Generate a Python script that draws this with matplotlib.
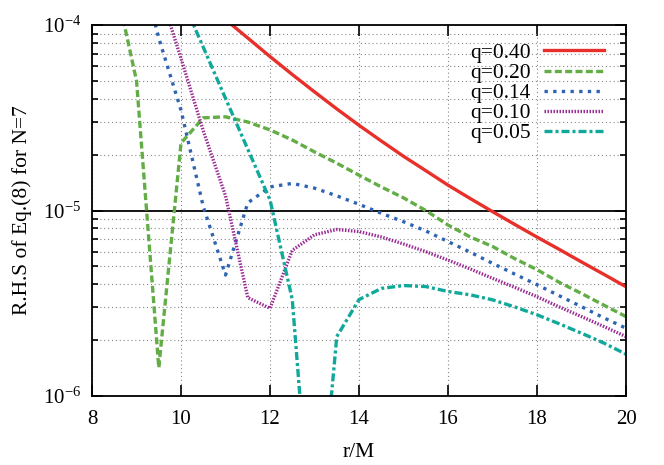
import numpy as np
import matplotlib
matplotlib.use('Agg')
import matplotlib.pyplot as plt
from matplotlib.ticker import LogLocator, NullFormatter

plt.rcParams['font.family'] = ['Liberation Serif', 'DejaVu Serif']
plt.rcParams['mathtext.fontset'] = 'custom'
plt.rcParams['mathtext.rm'] = 'Liberation Serif'

# data (r/M grid of 0.5)
r_040 = [11.0, 11.5, 12.0, 12.5, 13.0, 13.5, 14.0, 14.5, 15.0, 15.5,
         16.0, 16.5, 17.0, 17.5, 18.0, 18.5, 19.0, 19.5, 20.0]
q_040 = [1.07e-4, 8.51e-5, 6.76e-5, 5.41e-5, 4.36e-5, 3.53e-5, 2.88e-5,
         2.37e-5, 1.96e-5, 1.64e-5, 1.37e-5, 1.16e-5, 9.86e-6, 8.41e-6,
         7.19e-6, 6.17e-6, 5.28e-6, 4.53e-6, 3.88e-6]

r_020 = [8.0, 8.5, 9.0, 9.5, 10.0, 10.5, 11.0, 11.5, 12.0, 12.5, 13.0, 13.5,
         14.0, 14.5, 15.0, 15.5, 16.0, 16.5, 17.0, 17.5, 18.0, 18.5, 19.0,
         19.5, 20.0]
q_020 = [5.0e-4, 1.78e-4, 5.0e-5, 1.42e-6, 2.31e-5, 3.16e-5, 3.2e-5, 3.0e-5,
         2.72e-5, 2.40e-5, 2.07e-5, 1.80e-5, 1.55e-5, 1.34e-5, 1.17e-5, 1.0e-5,
         8.35e-6, 7.2e-6, 6.4e-6, 5.5e-6, 4.8e-6, 4.1e-6, 3.57e-6, 3.09e-6,
         2.68e-6]

r_014 = [9.0, 9.5, 10.0, 10.5, 11.0, 11.5, 12.0, 12.5, 13.0, 13.5, 14.0, 14.5,
         15.0, 15.5, 16.0, 16.5, 17.0, 17.5, 18.0, 18.5, 19.0, 19.5, 20.0]
q_014 = [2.5e-4, 8.5e-5, 3.47e-5, 1.05e-5, 4.49e-6, 1.10e-5, 1.34e-5, 1.40e-5,
         1.32e-5, 1.20e-5, 1.08e-5, 9.66e-6, 8.7e-6, 7.76e-6, 6.8e-6, 5.96e-6,
         5.19e-6, 4.54e-6, 3.98e-6, 3.47e-6, 3.03e-6, 2.64e-6, 2.32e-6]

r_010 = [9.5, 10.0, 10.5, 11.0, 11.5, 12.0, 12.5, 13.0, 13.5, 14.0, 14.5, 15.0,
         15.5, 16.0, 16.5, 17.0, 17.5, 18.0, 18.5, 19.0, 19.5, 20.0]
q_010 = [1.58e-4, 6.6e-5, 2.69e-5, 1.20e-5, 3.39e-6, 2.97e-6, 6.1e-6, 7.4e-6,
         7.9e-6, 7.7e-6, 7.2e-6, 6.6e-6, 6.0e-6, 5.4e-6, 4.84e-6, 4.31e-6,
         3.85e-6, 3.43e-6, 3.02e-6, 2.68e-6, 2.37e-6, 2.09e-6]

r_005 = [10.0, 10.5, 11.0, 11.5, 12.0, 12.5, 13.0, 13.5, 14.0, 14.5, 15.0,
         15.5, 16.0, 16.5, 17.0, 17.5, 18.0, 18.5, 19.0, 19.5, 20.0]
q_005 = [1.43e-4, 7.59e-5, 4.02e-5, 2.14e-5, 1.14e-5, 3.31e-6, 1.0e-7, 2.09e-6,
         3.31e-6, 3.8e-6, 3.94e-6, 3.89e-6, 3.66e-6, 3.51e-6, 3.30e-6, 3.02e-6,
         2.74e-6, 2.45e-6, 2.18e-6, 1.93e-6, 1.68e-6]

fig = plt.figure(figsize=(6.64, 4.65), dpi=100)
ax = fig.add_axes([0.1386, 0.1484, 0.8042, 0.7978])

lw = 2.4
ax.plot(r_040, q_040, color='#e8302a', lw=lw, label='q=0.40')
ax.plot(r_020, q_020, color='#62ad45', lw=lw, dashes=(2.1, 1.0), label='q=0.20')
ax.plot(r_014, q_014, color='#2f64b3', lw=lw, dashes=(1.0, 1.6), label='q=0.14')
ax.plot(r_010, q_010, color='#9a2a94', lw=lw, dashes=(0.45, 0.45), label='q=0.10')
ax.plot(r_005, q_005, color='#10a89a', lw=lw, dashes=(2.4, 0.9, 0.9, 0.9),
        label='q=0.05')
ax.axhline(1e-5, color='black', lw=1.3, zorder=1)

ax.set_yscale('log')
ax.set_xlim(8, 20)
ax.set_ylim(1e-6, 1e-4)
ax.set_xticks([8, 10, 12, 14, 16, 18, 20])
ax.yaxis.set_major_locator(LogLocator(base=10, numticks=5))
ax.yaxis.set_minor_locator(LogLocator(base=10, subs=np.arange(2, 10), numticks=10))
ax.yaxis.set_minor_formatter(NullFormatter())

ax.grid(True, which='major', axis='x', color='#888888', ls=(0, (1, 2.5)), lw=0.8)
ax.grid(True, which='minor', axis='y', color='#888888', ls=(0, (1, 2.5)), lw=0.8)
ax.tick_params(which='both', direction='in', top=True, right=True,
               labelsize=15, width=1.2)
ax.tick_params(which='major', length=8)
ax.tick_params(axis='x', which='major', pad=10)
ax.tick_params(axis='y', which='major', pad=8)
ax.tick_params(which='minor', length=4)
for s in ax.spines.values():
    s.set_linewidth(1.3)

ax.set_xlabel('r/M', fontsize=15.5, labelpad=10)
ax.set_ylabel('R.H.S of Eq.(8) for N=7', fontsize=15.5, labelpad=8)

ax.legend(loc='upper right', frameon=False, fontsize=15.5, markerfirst=False,
          handlelength=2.8, handletextpad=0.6, labelspacing=0.0,
          borderaxespad=0.0, bbox_to_anchor=(0.975, 0.975))

fig.savefig('out.png', dpi=100)
